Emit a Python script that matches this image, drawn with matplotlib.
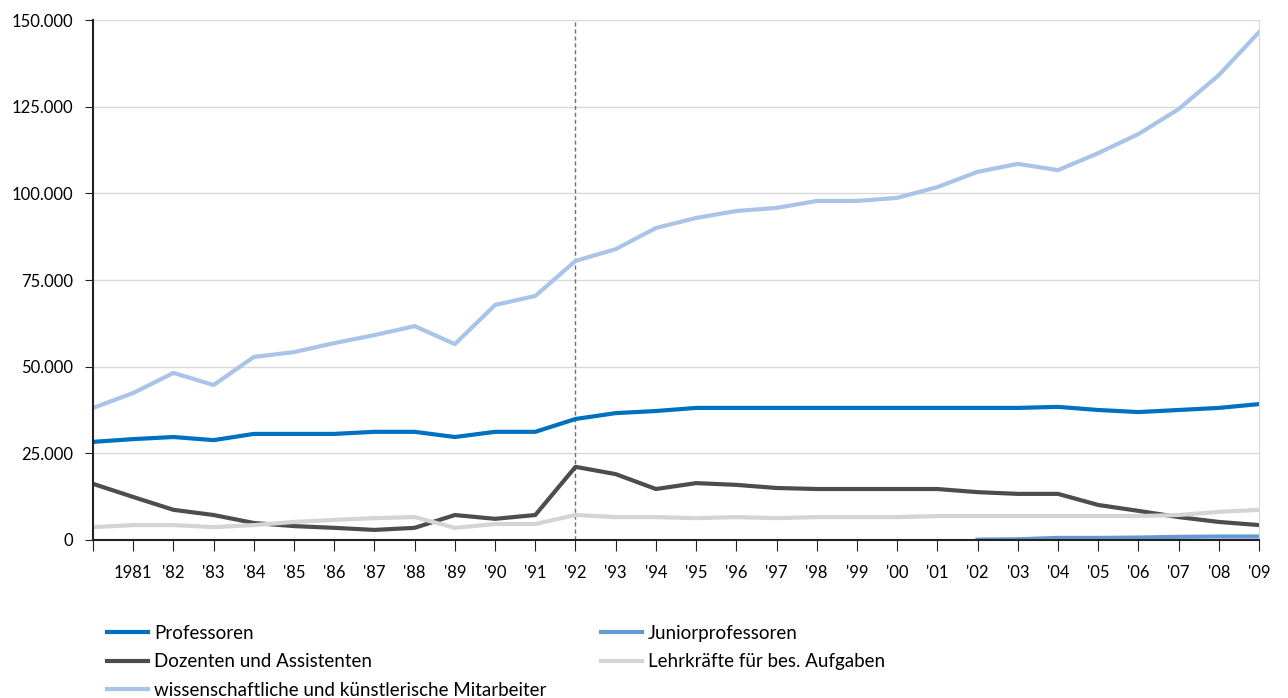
import matplotlib.pyplot as plt
from matplotlib.ticker import FuncFormatter

plt.rcParams['font.family'] = ['Lato', 'DejaVu Sans']

years = ['', '1981', "'82", "'83", "'84", "'85", "'86", "'87", "'88", "'89",
         "'90", "'91", "'92", "'93", "'94", "'95", "'96", "'97", "'98", "'99",
         "'00", "'01", "'02", "'03", "'04", "'05", "'06", "'07", "'08", "'09"]

professoren = [28300, 29100, 29700, 28800, 30600, 30600, 30600, 31200, 31200, 29700,
               31200, 31200, 34900, 36600, 37200, 38100, 38100, 38100, 38100, 38100,
               38100, 38100, 38100, 38100, 38400, 37500, 36900, 37500, 38100, 39200]
junior = [None] * 22 + [100, 200, 600, 600, 700, 900, 1000, 1000]
dozenten = [16200, 12400, 8700, 7200, 4900, 4000, 3500, 2900, 3500, 7200,
            6100, 7200, 21100, 19000, 14700, 16400, 15900, 15000, 14700, 14700,
            14700, 14700, 13800, 13300, 13300, 10100, 8400, 6600, 5200, 4300]
lehrkraefte = [3700, 4300, 4300, 3700, 4300, 5200, 5800, 6300, 6600, 3500,
               4600, 4600, 7200, 6600, 6600, 6300, 6600, 6300, 6600, 6600,
               6600, 6900, 6900, 6900, 6900, 6900, 6900, 7200, 8100, 8700]
mitarbeiter = [38100, 42400, 48200, 44700, 52800, 54200, 56800, 59100, 61700, 56500,
               67800, 70400, 80500, 83900, 90000, 92900, 94900, 95800, 97800, 97800,
               98700, 101800, 106200, 108500, 106700, 111600, 117100, 124300, 134100, 146500]

x = list(range(len(years)))

fig = plt.figure(figsize=(12.88, 6.98), dpi=100)
ax = fig.add_axes([0.0722, 0.2264, 0.9053, 0.7449])

ax.yaxis.grid(True, color='#d9d9d9', lw=1)
ax.set_axisbelow(True)
ax.axvline(12, color='#707070', lw=1, ls=(0, (3, 2)))

lw = 3
l_prof, = ax.plot(x, professoren, color='#0070C0', lw=lw, label='Professoren')
l_jun, = ax.plot(x, junior, color='#6699D3', lw=lw, label='Juniorprofessoren')
l_doz, = ax.plot(x, dozenten, color='#4D4D4D', lw=lw, label='Dozenten und Assistenten')
l_lehr, = ax.plot(x, lehrkraefte, color='#D4D4D4', lw=lw, label='Lehrkräfte für bes. Aufgaben')
l_wiss, = ax.plot(x, mitarbeiter, color='#A9C4E8', lw=lw,
                  label='wissenschaftliche und künstlerische Mitarbeiter')

ax.set_xlim(0, 29)
ax.set_ylim(0, 150000)
ax.set_yticks(range(0, 150001, 25000))
ax.yaxis.set_major_formatter(FuncFormatter(lambda v, p: f'{int(v):,}'.replace(',', '.')))
ax.set_xticks(x)
ax.set_xticklabels(years)
ax.tick_params(axis='x', direction='out', length=8, pad=10, labelsize=12, color='#222222')
ax.tick_params(axis='y', direction='out', length=6, pad=8, labelsize=12, color='#222222')

ax.spines['top'].set_visible(False)
ax.spines['right'].set_color('#d9d9d9')
ax.spines['left'].set_color('#222222')
ax.spines['bottom'].set_color('#222222')
ax.spines['left'].set_linewidth(1.5)
ax.spines['bottom'].set_linewidth(1.5)

fig.legend(handles=[l_prof, l_doz, l_wiss, l_jun, l_lehr], ncol=2,
           loc='upper left', bbox_to_anchor=(0.0831, 0.105), frameon=False,
           fontsize=13.5, handlelength=2.2, handletextpad=0.32, columnspacing=2.9,
           labelspacing=0.62, borderaxespad=0, borderpad=0)

fig.savefig('out.png', dpi=100)
